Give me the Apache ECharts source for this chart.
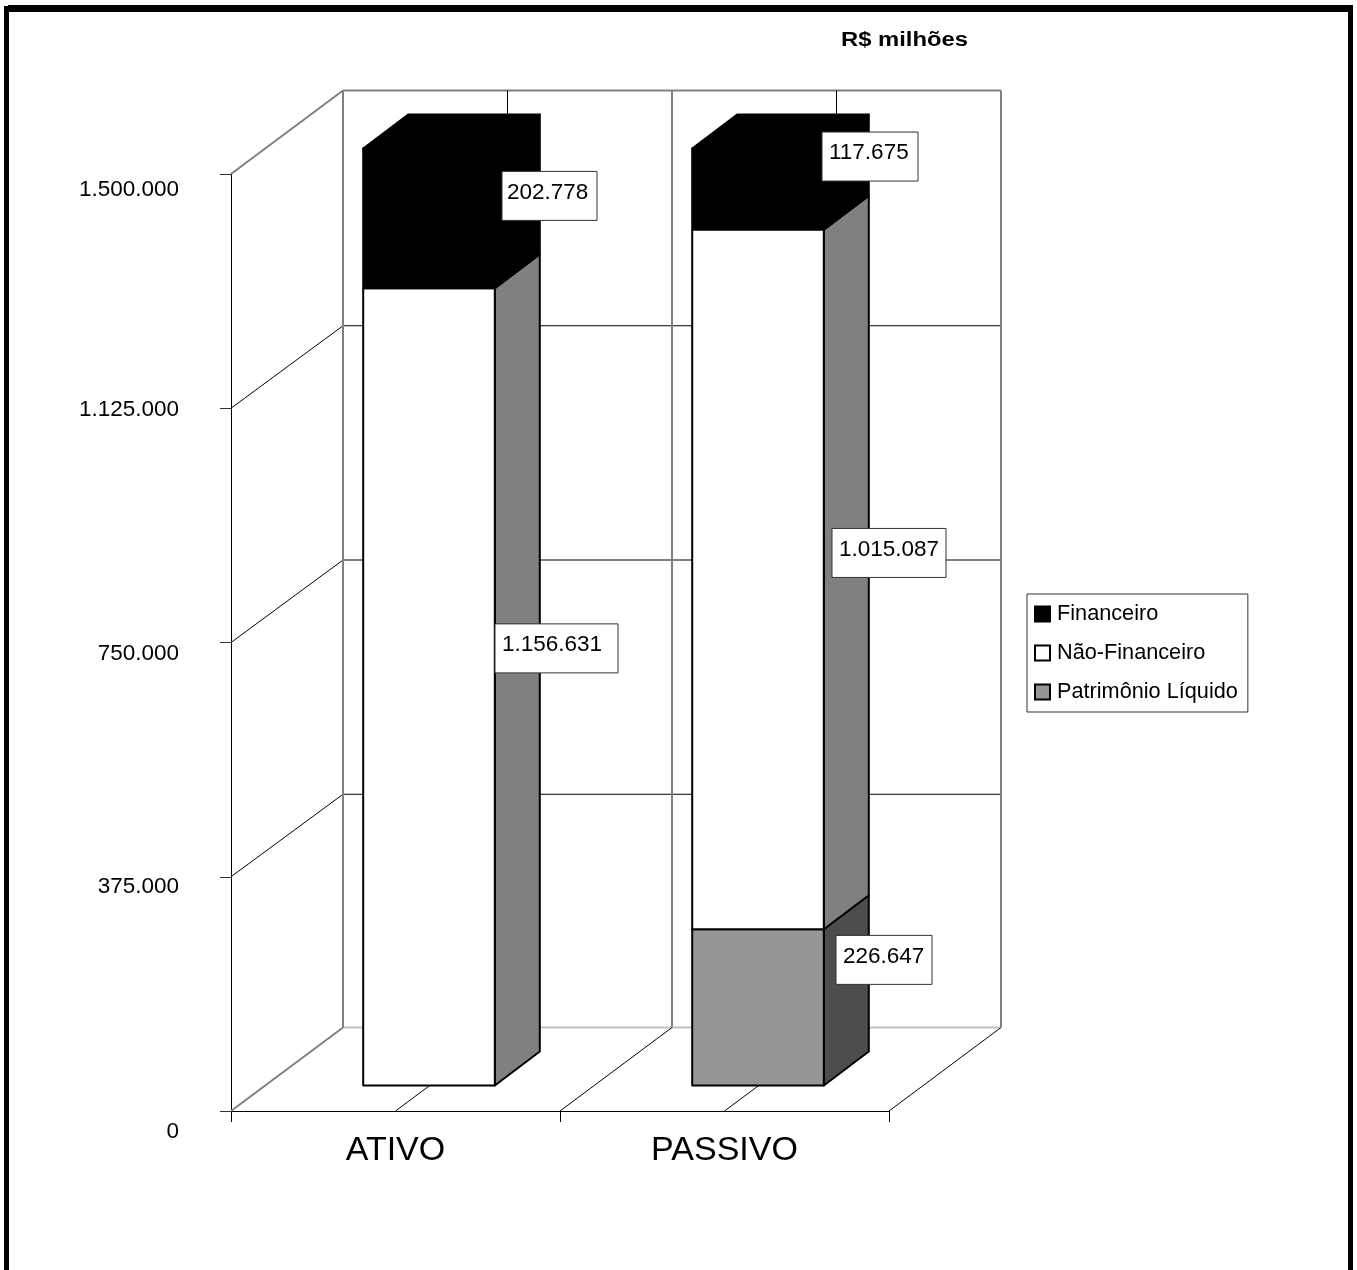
<!DOCTYPE html>
<html>
<head>
<meta charset="utf-8">
<style>html,body{margin:0;padding:0;background:#fff}#c{width:1357px;height:1270px}</style>
<script src="https://cdn.jsdelivr.net/npm/echarts@6/dist/echarts.min.js"></script>
</head>
<body>
<div id="c"></div>
<script>
// Data
const categories = ['ATIVO', 'PASSIVO'];
const patrimonio = [0, 226647];
const naoFinanceiro = [1156631, 1015087];
const financeiro = [202778, 117675];
const axisTicks = [0, 375000, 750000, 1125000, 1500000];
const axisMax = 1500000;

// The original chart is a 100% stack drawn on a 0 - 1.500.000 axis
const layers = [
  { name: 'Patrimônio Líquido', values: patrimonio, color: '#969696', side: '#4d4d4d' },
  { name: 'Não-Financeiro', values: naoFinanceiro, color: '#ffffff', side: '#808080' },
  { name: 'Financeiro', values: financeiro, color: '#000000', side: '#000000' }
];

// Pseudo-3D geometry (pixels)
const WALL = [112, -83.5], FRONT = [33.5, -25.5], SIDE = [45, -34], BAR_RATIO = 0.4;
const FONT = '"Liberation Sans", Arial, sans-serif';
// Data label boxes: offset from the segment's plain axis position, width, text inset
const labelBoxes = {
  'Patrimônio Líquido': [[0, 0, 0, 7], [159.5, -73, 96, 7]],
  'Não-Financeiro': [[161, -64, 123, 7], [164.5, -52, 114, 7]],
  'Financeiro': [[154, -48, 95, 5], [145.5, -58, 96, 7]]
};
// Vertical nudge of each y-axis label from its tick
const tickLabelNudge = { 0: 21, 375000: 10, 750000: 11, 1125000: 2, 1500000: 16 };

const fmt = v => String(v).replace(/\B(?=(\d{3})+$)/g, '.');
const line = (x1, y1, x2, y2, stroke, lineWidth) => ({
  type: 'line', shape: { x1, y1, x2, y2 }, style: { stroke, lineWidth }
});

function rows(layerIndex) {
  const out = [];
  categories.forEach((c, i) => {
    const total = layers.reduce((s, l) => s + l.values[i], 0);
    const below = layers.slice(0, layerIndex).reduce((s, l) => s + l.values[i], 0);
    const v = layers[layerIndex].values[i];
    if (v > 0) out.push([i, below / total * axisMax, (below + v) / total * axisMax, v]);
  });
  return out;
}

const gridSeries = {
  type: 'custom', name: 'grade', silent: true, z: 1, clip: false,
  data: axisTicks.map(v => [0, v]),
  renderItem(params, api) {
    const v = api.value(1);
    const p = api.coord([0, v]);
    const band = api.size([1, 0])[0];
    const x0 = p[0] - band / 2, y = p[1];
    const edge = v === 0 || v === axisMax;
    const xb = x0 + WALL[0], yb = y + WALL[1] + (edge ? 0 : 1);
    const children = [
      line(x0, y, xb, yb, edge ? '#808080' : '#000', edge ? 2 : 1),
      v === 0 ? line(xb, yb, xb + band * categories.length, yb, '#c0c0c0', 2)
              : line(xb, yb, xb + band * categories.length, yb, edge ? '#808080' : '#000', edge ? 2 : 1)
    ];
    return { type: 'group', children };
  }
};

const wallSeries = {
  type: 'custom', name: 'parede', silent: true, z: 1, clip: false,
  data: categories.map((c, i) => [i, axisMax]),
  renderItem(params, api) {
    const i = api.value(0);
    const top = api.coord([i, axisMax]), bot = api.coord([i, 0]);
    const band = api.size([1, 0])[0];
    const c = top[0], yT = top[1] + WALL[1], yB = bot[1] + WALL[1], y0 = bot[1];
    const l = c - band / 2, r = c + band / 2;
    const children = [
      line(l + WALL[0], yT, l + WALL[0], yB, '#808080', 2),
      line(c + WALL[0], yT, c + WALL[0], yB, '#000', 1),
      line(c, y0, c + WALL[0], yB, '#000', 1),
      line(r, y0, r + WALL[0], yB, '#000', 1)
    ];
    if (i === categories.length - 1) children.push(line(r + WALL[0], yT, r + WALL[0], yB, '#808080', 2));
    return { type: 'group', children };
  }
};

const barSeries = layers.map((layer, k) => ({
  type: 'custom', name: layer.name, z: 3 + k, clip: false,
  itemStyle: { color: layer.color, borderColor: '#000', borderWidth: 2 },
  data: rows(k),
  renderItem(params, api) {
    const i = api.value(0);
    const a = api.coord([i, api.value(1)]), b = api.coord([i, api.value(2)]);
    const w = api.size([1, 0])[0] * BAR_RATIO;
    const xL = a[0] + FRONT[0] - w / 2, xR = xL + w;
    const yB = a[1] + FRONT[1], yT = b[1] + FRONT[1];
    const st = (fill) => ({ fill, stroke: '#000', lineWidth: 2, lineJoin: 'round' });
    const children = [
      { type: 'polygon', shape: { points: [[xR, yB], [xR + SIDE[0], yB + SIDE[1]], [xR + SIDE[0], yT + SIDE[1]], [xR, yT]] }, style: st(layer.side) },
      { type: 'polygon', shape: { points: [[xL, yB], [xR, yB], [xR, yT], [xL, yT]] }, style: st(layer.color) }
    ];
    if (k === layers.length - 1) {
      children.push({ type: 'polygon', shape: { points: [[xL, yT], [xR, yT], [xR + SIDE[0], yT + SIDE[1]], [xL + SIDE[0], yT + SIDE[1]]] }, style: st(layer.color) });
    }
    return { type: 'group', children };
  }
}));

const labelSeries = layers.map((layer, k) => ({
  type: 'custom', name: 'rótulos ' + layer.name, silent: true, z: 10, clip: false,
  data: rows(k),
  renderItem(params, api) {
    const i = api.value(0);
    const p = api.coord([i, (api.value(1) + api.value(2)) / 2]);
    const box = labelBoxes[layer.name][i];
    const h = 49, cx = p[0] + box[0], cy = p[1] + box[1], x = cx - box[2] / 2;
    return {
      type: 'group', children: [
        { type: 'rect', shape: { x, y: cy - h / 2, width: box[2], height: h }, style: { fill: '#fff', stroke: '#333', lineWidth: 1 } },
        { type: 'text', style: { x: x + box[3], y: cy - 3.5, text: fmt(api.value(3)), fill: '#000', font: '22.5px ' + FONT, textAlign: 'left', textVerticalAlign: 'middle' } }
      ]
    };
  }
}));

const rich = {};
axisTicks.forEach(v => {
  rich['t' + v] = { fontFamily: FONT, fontSize: 22.5, color: '#000', padding: [tickLabelNudge[v] * 2, 0, 0, 0] };
});

const chart = echarts.init(document.getElementById('c'), null, { renderer: 'canvas' });
chart.setOption({
  animation: false,
  backgroundColor: '#fff',
  grid: { left: 231, right: 468, top: 174, bottom: 159, containLabel: false },
  legend: {
    left: 1027, top: 594,
    orient: 'vertical',
    data: ['Financeiro', 'Não-Financeiro', 'Patrimônio Líquido'],
    icon: 'rect', itemWidth: 15, itemHeight: 15, itemGap: 17,
    padding: [9, 10, 9, 7],
    backgroundColor: '#fff', borderColor: '#333', borderWidth: 1,
    textStyle: { fontFamily: FONT, fontSize: 21.7, color: '#000', padding: [0, 0, 0, 2] },
    selectedMode: false
  },
  xAxis: {
    type: 'category', data: categories,
    axisLine: { lineStyle: { color: '#000', width: 1 } },
    axisTick: { show: true, alignWithLabel: false, length: 11, lineStyle: { color: '#000', width: 1 } },
    axisLabel: { fontFamily: FONT, fontSize: 34, color: '#000', margin: 23 },
    splitLine: { show: false }
  },
  yAxis: {
    type: 'value', min: 0, max: axisMax, interval: 375000,
    axisLine: { show: true, lineStyle: { color: '#000', width: 1 } },
    axisTick: { show: true, length: 11, lineStyle: { color: '#333', width: 1 } },
    axisLabel: { margin: 52, align: 'right', formatter: v => '{t' + v + '|' + fmt(v) + '}', rich },
    splitLine: { show: false }
  },
  series: [gridSeries, wallSeries, ...barSeries, ...labelSeries],
  graphic: [
    { type: 'rect', shape: { x: 4, y: 6, width: 5, height: 1264 }, style: { fill: '#000' }, z: 100, silent: true },
    { type: 'rect', shape: { x: 8, y: 5, width: 1345, height: 7 }, style: { fill: '#000' }, z: 100, silent: true },
    { type: 'rect', shape: { x: 1348, y: 5, width: 5, height: 1265 }, style: { fill: '#000' }, z: 100, silent: true },
    { type: 'text', x: 841, y: 40, scaleX: 1.19, scaleY: 1, z: 100, silent: true,
      style: { text: 'R$ milhões', fill: '#000', font: 'bold 20px ' + FONT, textAlign: 'left', textVerticalAlign: 'middle' } }
  ]
});
</script>
</body>
</html>
